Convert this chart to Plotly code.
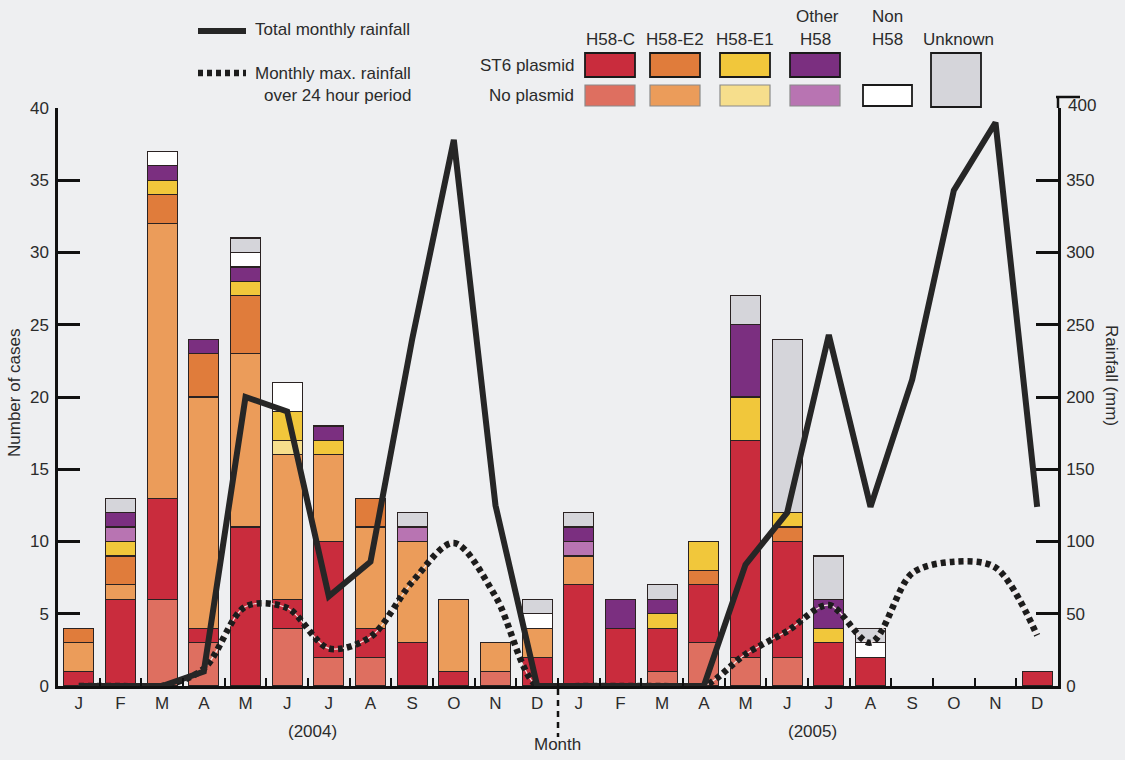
import plotly.graph_objects as go

# ---------------- data ----------------
month_labels = ["J", "F", "M", "A", "M", "J", "J", "A", "S", "O", "N", "D",
                "J", "F", "M", "A", "M", "J", "J", "A", "S", "O", "N", "D"]

# stacked case counts (bottom -> top)
h58c_noplasmid  = [0, 0, 6, 3, 0, 4, 2, 2, 0, 0, 1, 0, 0, 0, 1, 3, 2, 2, 0, 0, 0, 0, 0, 0]
h58c_plasmid    = [1, 6, 7, 1, 11, 2, 8, 2, 3, 1, 0, 2, 7, 4, 3, 4, 15, 8, 3, 2, 0, 0, 0, 1]
h58e2_noplasmid = [2, 1, 19, 16, 12, 10, 6, 7, 7, 5, 2, 2, 2, 0, 0, 0, 0, 0, 0, 0, 0, 0, 0, 0]
h58e2_plasmid   = [1, 2, 2, 3, 4, 0, 0, 2, 0, 0, 0, 0, 0, 0, 0, 1, 0, 1, 0, 0, 0, 0, 0, 0]
h58e1_noplasmid = [0, 0, 0, 0, 0, 1, 0, 0, 0, 0, 0, 0, 0, 0, 0, 0, 0, 0, 0, 0, 0, 0, 0, 0]
h58e1_plasmid   = [0, 1, 1, 0, 1, 2, 1, 0, 0, 0, 0, 0, 0, 0, 1, 2, 3, 1, 1, 0, 0, 0, 0, 0]
other_noplasmid = [0, 1, 0, 0, 0, 0, 0, 0, 1, 0, 0, 0, 1, 0, 0, 0, 0, 0, 0, 0, 0, 0, 0, 0]
other_plasmid   = [0, 1, 1, 1, 1, 0, 1, 0, 0, 0, 0, 0, 1, 2, 1, 0, 5, 0, 2, 0, 0, 0, 0, 0]
non_h58         = [0, 0, 1, 0, 1, 2, 0, 0, 0, 0, 0, 1, 0, 0, 0, 0, 0, 0, 0, 1, 0, 0, 0, 0]
unknown         = [0, 1, 0, 0, 1, 0, 0, 0, 1, 0, 0, 1, 1, 0, 1, 0, 2, 12, 3, 1, 0, 0, 0, 0]

# rainfall (mm)
total_rainfall = [0, 0, 0, 10, 200, 190, 62, 86, 240, 378, 125, 0,
                  0, 0, 0, 0, 84, 120, 243, 124, 212, 343, 390, 124]
max_24h_rainfall = [0, 0, 0, 12, 55, 54, 26, 34, 72, 99, 62, 0,
                    0, 0, 0, 0, 22, 38, 56, 30, 78, 86, 82, 35]

left_ticks = [0, 5, 10, 15, 20, 25, 30, 35, 40]
right_ticks = [0, 50, 100, 150, 200, 250, 300, 350]

series = [
    ("H58-C no plasmid", h58c_noplasmid, "#de6f60"),
    ("H58-C ST6 plasmid", h58c_plasmid, "#c92c3d"),
    ("H58-E2 no plasmid", h58e2_noplasmid, "#eb9c5a"),
    ("H58-E2 ST6 plasmid", h58e2_plasmid, "#e07c3b"),
    ("H58-E1 no plasmid", h58e1_noplasmid, "#f6de8c"),
    ("H58-E1 ST6 plasmid", h58e1_plasmid, "#f1c73b"),
    ("Other H58 no plasmid", other_noplasmid, "#b874b2"),
    ("Other H58 ST6 plasmid", other_plasmid, "#7b2f80"),
    ("Non H58", non_h58, "#ffffff"),
    ("Unknown", unknown, "#d5d5da"),
]

# ---------------- geometry ----------------
W, H = 1125, 760
L, R, T, B = 58, 1058, 108, 686
BG = "#eeeff1"
FONT = "Liberation Sans, Arial, Helvetica, sans-serif"
TXT = "#2b2b2b"
FS = 17


def px(x):
    return (x - L) / (R - L)


def py(y):
    return (B - y) / (B - T)


xs = list(range(len(month_labels)))

fig = go.Figure()
for name, vals, col in series:
    fig.add_trace(go.Bar(
        x=xs, y=[v if v else None for v in vals], name=name, width=0.72,
        marker=dict(color=col, line=dict(color="#2a2222", width=1.2)),
        showlegend=False, yaxis="y",
    ))

# max 24h rainfall (dotted) with thin light thread
fig.add_trace(go.Scatter(
    x=xs, y=max_24h_rainfall, yaxis="y2", mode="lines",
    line=dict(color="#f4e4e0", width=1.2, shape="spline", smoothing=0.9),
    showlegend=False, hoverinfo="skip"))
fig.add_trace(go.Scatter(
    x=xs, y=max_24h_rainfall, yaxis="y2", mode="lines",
    line=dict(color="#1c1c1c", width=6.5, dash="5px,4px", shape="spline", smoothing=0.9),
    showlegend=False))
# total rainfall (solid)
fig.add_trace(go.Scatter(
    x=xs, y=total_rainfall, yaxis="y2", mode="lines",
    line=dict(color="#262626", width=6),
    showlegend=False))

shapes = []
ann = []


def text(x, y, s, **kw):
    d = dict(xref="paper", yref="paper", x=px(x), y=py(y), text=s, showarrow=False,
             xanchor="center", yanchor="middle",
             font=dict(family=FONT, size=kw.pop("size", FS), color=TXT))
    d.update(kw)
    ann.append(d)


# year divider (dashed)
shapes.append(dict(type="line", xref="x", yref="paper", x0=11.5, x1=11.5,
                   y0=py(689), y1=py(737), line=dict(color="#111", width=2.5, dash="6px,5px")))
# right axis extension and cap
shapes.append(dict(type="line", xref="paper", yref="paper", x0=px(R), x1=px(R),
                   y0=py(T), y1=py(97), line=dict(color="#111", width=2.5)))
shapes.append(dict(type="line", xref="paper", yref="paper", x0=px(R - 2), x1=px(R + 22),
                   y0=py(97), y1=py(97), line=dict(color="#111", width=2.5)))
text(R + 8, 106, "400", xanchor="left")

# axis titles
text(14, 393, "Number of cases", textangle=-90)
text(1112, 375, "Rainfall (mm)", textangle=90)
text(312, 731, "(2004)")
text(812, 731, "(2005)")
text(557, 745, "Month")

# ---- legend (drawn manually) ----
shapes.append(dict(type="line", xref="paper", yref="paper", x0=px(198), x1=px(246),
                   y0=py(31), y1=py(31), line=dict(color="#262626", width=6)))
shapes.append(dict(type="line", xref="paper", yref="paper", x0=px(198), x1=px(246),
                   y0=py(73), y1=py(73), line=dict(color="#1c1c1c", width=6.5, dash="5px,4px")))
text(253, 29, "Total monthly rainfall", xanchor="left")
text(253, 73, "Monthly max. rainfall", xanchor="left")
text(262, 95, "over 24 hour period", xanchor="left")
text(576, 65, "ST6 plasmid", xanchor="right")
text(576, 96, "No plasmid", xanchor="right")

box_cols = [(585, 635), (650, 700), (720, 770), (790, 840)]
row1 = (53, 77)
row2 = (85, 106)
plasmid_cols = [series[1][2], series[3][2], series[5][2], series[7][2]]
noplasmid_cols = [series[0][2], series[2][2], series[4][2], series[6][2]]
headers = ["H58-C", "H58-E2", "H58-E1", "H58"]
for (x0, x1), pc, nc, hd in zip(box_cols, plasmid_cols, noplasmid_cols, headers):
    shapes.append(dict(type="rect", xref="paper", yref="paper", x0=px(x0), x1=px(x1),
                       y0=py(row1[1]), y1=py(row1[0]), fillcolor=pc,
                       line=dict(color="#1a1a1a", width=1.8)))
    shapes.append(dict(type="rect", xref="paper", yref="paper", x0=px(x0), x1=px(x1),
                       y0=py(row2[1]), y1=py(row2[0]), fillcolor=nc,
                       line=dict(color="#8a8a8a", width=1.2)))
    text((x0 + x1) / 2, 40, hd)
text(817, 17, "Other")
# Non H58
shapes.append(dict(type="rect", xref="paper", yref="paper", x0=px(863), x1=px(912),
                   y0=py(row2[1]), y1=py(row2[0]), fillcolor="#ffffff",
                   line=dict(color="#1a1a1a", width=1.8)))
text(887, 17, "Non")
text(887, 40, "H58")
# Unknown
shapes.append(dict(type="rect", xref="paper", yref="paper", x0=px(931), x1=px(981),
                   y0=py(107), y1=py(53), fillcolor=series[9][2],
                   line=dict(color="#1a1a1a", width=1.8)))
text(958, 40, "Unknown")

fig.update_layout(
    width=W, height=H,
    margin=dict(l=L, r=W - R, t=T, b=H - B, pad=0),
    paper_bgcolor=BG, plot_bgcolor=BG,
    barmode="stack",
    font=dict(family=FONT, size=FS, color=TXT),
    xaxis=dict(
        range=[-0.5, 23.5], tickmode="array", tickvals=xs, ticktext=month_labels,
        ticks="", showgrid=False, zeroline=False,
        showline=True, linecolor="#111", linewidth=3,
        tickfont=dict(family=FONT, size=FS, color=TXT),
        minor=dict(tickmode="array", tickvals=[i + 0.5 for i in range(23)],
                   ticks="inside", ticklen=8, tickwidth=2, tickcolor="#111", showgrid=False),
    ),
    yaxis=dict(
        range=[0, 40], tickmode="array", tickvals=left_ticks,
        ticks="inside", ticklen=22, tickwidth=2.5, tickcolor="#111",
        showgrid=False, zeroline=False, showline=True, linecolor="#111", linewidth=2.5,
        tickfont=dict(family=FONT, size=FS, color=TXT), ticklabelstandoff=3,
    ),
    yaxis2=dict(
        range=[0, 400], overlaying="y", side="right", tickmode="array", tickvals=right_ticks,
        ticks="inside", ticklen=22, tickwidth=2.5, tickcolor="#111",
        showgrid=False, zeroline=False, showline=True, linecolor="#111", linewidth=2.5,
        tickfont=dict(family=FONT, size=FS, color=TXT), ticklabelstandoff=2,
    ),
    shapes=shapes,
    annotations=ann,
)

fig.write_html(
    "out.html",
    config={"displayModeBar": False},
    post_script="document.body.style.margin='0';document.body.style.background='#eeeff1';",
)
